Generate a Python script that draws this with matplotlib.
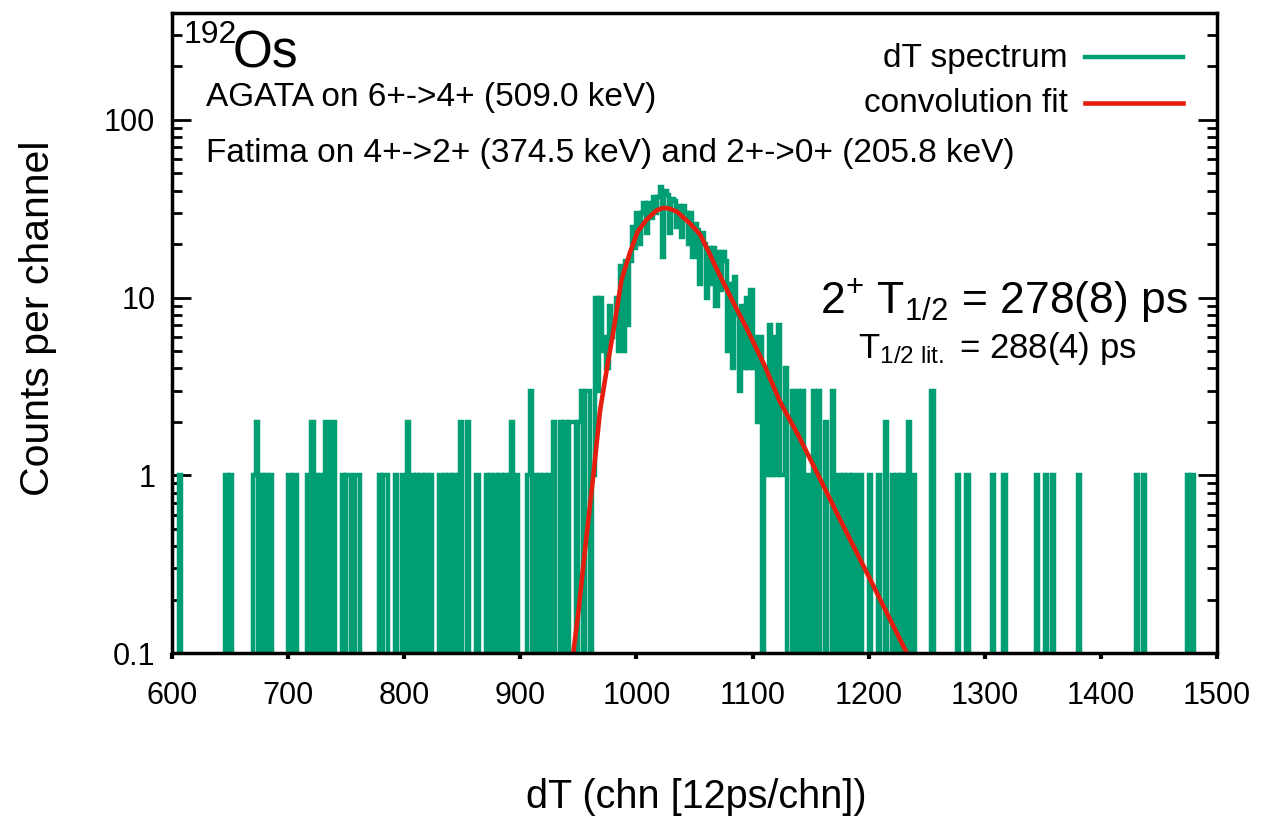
import numpy as np
import matplotlib
matplotlib.use("Agg")
import matplotlib.pyplot as plt

plt.rcParams['font.family'] = ['Liberation Sans', 'DejaVu Sans']
plt.rcParams['mathtext.fontset'] = 'custom'
plt.rcParams['mathtext.rm'] = 'Liberation Sans'
plt.rcParams['mathtext.it'] = 'Liberation Sans:italic'

BIN = 2  # channels per bin

# background events left of the peak: bin start channel, counts
left_chn = [606, 646, 650, 670, 672, 676, 680, 684, 700, 704, 706,
            716, 720, 724, 728, 732, 738, 746, 750, 752, 758, 760,
            778, 782, 784, 792, 798, 802, 806, 810, 814, 818, 822,
            830, 834, 838, 842, 846, 848, 854, 862,
            870, 874, 878, 882, 886, 890, 892, 896,
            906, 908, 912, 916, 920, 924, 928,
            934, 938, 942, 944, 946, 950, 952, 956, 958]
left_cnt = [1, 1, 1, 1, 2, 1, 1, 1, 1, 1, 1,
            1, 2, 1, 1, 2, 2, 1, 1, 1, 1, 1,
            1, 1, 1, 1, 1, 2, 1, 1, 1, 1, 1,
            1, 1, 1, 1, 1, 2, 2, 1,
            1, 1, 1, 1, 1, 1, 2, 1,
            1, 3, 1, 1, 1, 1, 2,
            2, 2, 2, 2, 2, 2, 3, 3, 3]

# peak region, every bin from 960 to 1130
peak_start = 960
peak_cnt = [0, 1, 10, 3, 10, 5, 6, 4, 9, 6,
            7, 10, 5, 15, 5, 16, 7, 16, 25, 19,
            30, 20, 30, 34, 23, 34, 28, 37, 30, 37,
            42, 17, 40, 38, 23, 36, 35, 25, 33, 22,
            33, 30, 20, 30, 17, 26, 24, 12, 23, 20,
            10, 19, 12, 19, 9, 18, 11, 18, 16, 5,
            12, 4, 13, 8, 3, 9, 4, 10, 4, 11,
            4, 6, 2, 6, 0, 4, 1, 7, 1, 6,
            1, 7, 1, 1, 4, 0]

# background events right of the peak
right_chn = [1134, 1138, 1142, 1148, 1152, 1156, 1162, 1168,
             1174, 1178, 1182, 1186, 1192, 1200, 1208, 1214,
             1220, 1224, 1228, 1234, 1238, 1254, 1276, 1284,
             1306, 1316, 1344, 1352, 1358, 1380, 1430, 1436, 1474, 1478]
right_cnt = [3, 3, 3, 1, 3, 3, 2, 3,
             1, 1, 1, 1, 1, 1, 1, 2,
             1, 1, 1, 2, 1, 3, 1, 1,
             1, 1, 1, 1, 1, 1, 1, 1, 1, 1]

# convolution fit
fit_chn = [945.6, 950, 954, 958, 962.9, 968.6, 974, 981, 987, 994.5,
           1001, 1008.8, 1017.4, 1023, 1028, 1034.7, 1046, 1054.7, 1063.3,
           1067.6, 1080, 1095, 1110, 1123.6, 1140, 1155, 1175, 1200, 1232.8]
fit_val = [0.1, 0.17, 0.3, 0.52, 1.0, 2.3, 3.8, 7.0, 12.5, 18,
           23.5, 27.5, 31, 32, 31.8, 30.5, 26.2, 22.7, 17.5,
           15.2, 10.4, 6.7, 4.2, 2.6, 1.65, 1.05, 0.57, 0.27, 0.1]

edges = np.arange(600, 1500 + BIN, BIN)
counts = np.zeros(len(edges) - 1)
for c, n in zip(left_chn + right_chn, left_cnt + right_cnt):
    counts[(c - 600) // BIN] = n
i0 = (peak_start - 600) // BIN
counts[i0:i0 + len(peak_cnt)] = peak_cnt

W, H = 1272, 817
fig = plt.figure(figsize=(W / 100, H / 100), dpi=100)
ax = fig.add_axes([172 / W, 1 - 653 / H, (1217 - 172) / W, (653 - 13) / H])

# empty channels are pushed below the axis so the step drops to the bottom
y = np.where(counts > 0, counts, 1e-3)
ax.plot(edges, np.append(y, y[-1]), drawstyle='steps-post', color='#009e73',
        lw=3.2, solid_joinstyle='miter', solid_capstyle='butt')
ax.plot(fit_chn, fit_val, color='#e51e10', lw=3.3)

ax.set_yscale('log')
ax.set_xlim(600, 1500)
ax.set_ylim(0.1, 400)
ax.set_xticks(range(600, 1501, 100))
ax.set_yticks([0.1, 1, 10, 100])
ax.set_yticklabels(['0.1', '1', '10', '100'])
ax.tick_params(axis='x', which='major', direction='out', length=4, width=3,
               top=False, labelsize=22, pad=16)
ax.tick_params(axis='y', which='major', direction='in', length=14, width=2,
               right=True, labelsize=22, pad=12)
ax.tick_params(axis='y', which='minor', direction='in', length=7, width=2,
               right=True)
ax.tick_params(axis='x', which='minor', bottom=False, top=False)
for s in ax.spines.values():
    s.set_linewidth(2.5)

def fx(x):
    return x / W

def fy(y):
    return 1 - y / H

fig.text(fx(38), fy(318), 'Counts per channel', rotation=90, ha='center',
         va='center', fontsize=29.5)
fig.text(fx(696), fy(797), 'dT (chn [12ps/chn])', ha='center', va='center',
         fontsize=28.5)

fig.text(fx(184), fy(20), '192', ha='left', va='top', fontsize=23)
fig.text(fx(233), fy(68), 'Os', ha='left', va='baseline', fontsize=37)
fig.text(fx(206), fy(106), 'AGATA on 6+->4+ (509.0 keV)', ha='left',
         va='baseline', fontsize=24)
fig.text(fx(206), fy(162), 'Fatima on 4+->2+ (374.5 keV) and 2+->0+ (205.8 keV)',
         ha='left', va='baseline', fontsize=24)

# legend
fig.text(fx(1068), fy(58), 'dT spectrum', ha='right', va='center', fontsize=24)
fig.text(fx(1068), fy(103), 'convolution fit', ha='right', va='center', fontsize=24)
fig.add_artist(plt.Line2D([fx(1085), fx(1183)], [fy(57), fy(57)],
                          color='#009e73', lw=3.2))
fig.add_artist(plt.Line2D([fx(1085), fx(1183)], [fy(103), fy(103)],
                          color='#e51e10', lw=3.3))

fig.text(fx(1188), fy(313), r'2$^{+}$ T$_{1/2}$ = 278(8) ps', ha='right',
         va='baseline', fontsize=32)
fig.text(fx(1137), fy(358), r'T$_{1/2\ \mathrm{lit.}}$ = 288(4) ps', ha='right',
         va='baseline', fontsize=25)

fig.savefig('out.png', dpi=100)
